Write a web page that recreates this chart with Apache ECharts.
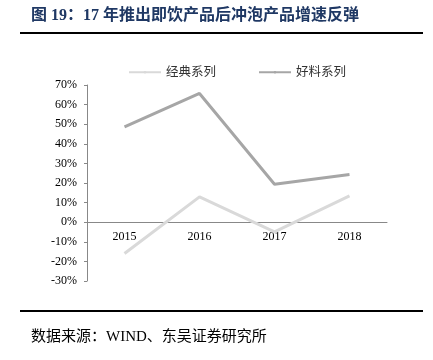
<!DOCTYPE html>
<html><head><meta charset="utf-8">
<script src="https://cdn.jsdelivr.net/npm/echarts@6/dist/echarts.min.js"></script>
<style>html,body{margin:0;padding:0;background:#fff}#c{width:433px;height:360px}</style>
</head><body><div id="c"></div>
<script>
var categories = ['2015', '2016', '2017', '2018'];
var classicSeries = [-16.0, 12.9, -4.9, 13.4];
var goodSeries = [48.6, 65.7, 19.4, 24.3];
var seriesNames = ['经典系列', '好料系列'];
var yMin = -30, yMax = 70, yStep = 10;
var titleText = '图 19：17 年推出即饮产品后冲泡产品增速反弹';
var sourceText = '数据来源：WIND、东吴证券研究所';

var serif = '"Liberation Serif","Times New Roman","Noto Sans CJK SC",serif';
var gridTop = 85, gridBottom = 79, H = 360;
var plotH = H - gridTop - gridBottom;
var zeroOffset = -plotH * (0 - yMin) / (yMax - yMin);
var chart = echarts.init(document.getElementById('c'));
chart.setOption({
  animation: false,
  backgroundColor: '#fff',
  grid: {left: 87, right: 46, top: gridTop, bottom: gridBottom, containLabel: false},
  legend: {
    left: 123, top: 61, itemWidth: 32, itemHeight: 3, itemGap: 42,
    textStyle: {fontFamily: serif, fontSize: 12.5, color: '#333'},
    data: seriesNames
  },
  xAxis: {
    type: 'category', data: categories, boundaryGap: true, position: 'bottom',
    offset: zeroOffset,
    axisLine: {onZero: false, lineStyle: {color: '#888', width: 1}},
    axisTick: {inside: true, length: 5, lineStyle: {color: '#888'}},
    axisLabel: {fontFamily: serif, fontSize: 12, color: '#000', margin: 9},
    splitLine: {show: false}
  },
  yAxis: {
    type: 'value', min: yMin, max: yMax, interval: yStep,
    axisLine: {show: true, lineStyle: {color: '#888', width: 1}},
    axisTick: {show: true, length: 3, lineStyle: {color: '#888'}},
    axisLabel: {fontFamily: serif, fontSize: 12, color: '#000', margin: 10,
      formatter: function (v) { return v + '%'; }},
    splitLine: {show: false}
  },
  series: [
    {name: seriesNames[0], type: 'line', data: classicSeries, symbol: 'none',
     lineStyle: {color: '#d9d9d9', width: 3}, itemStyle: {color: '#d9d9d9'}},
    {name: seriesNames[1], type: 'line', data: goodSeries, symbol: 'none',
     lineStyle: {color: '#a6a6a6', width: 3}, itemStyle: {color: '#a6a6a6'}}
  ],
  graphic: [
    {type: 'text', left: 31, top: 8, style: {text: titleText, fill: '#1f3864',
      font: 'bold 16px ' + serif}},
    {type: 'line', shape: {x1: 20, y1: 33, x2: 423, y2: 33}, style: {stroke: '#000', lineWidth: 2}},
    {type: 'line', shape: {x1: 20, y1: 311, x2: 423, y2: 311}, style: {stroke: '#000', lineWidth: 2}},
    {type: 'text', left: 31, top: 330, style: {text: sourceText, fill: '#000',
      font: '15px ' + serif}}
  ]
});
</script></body></html>
